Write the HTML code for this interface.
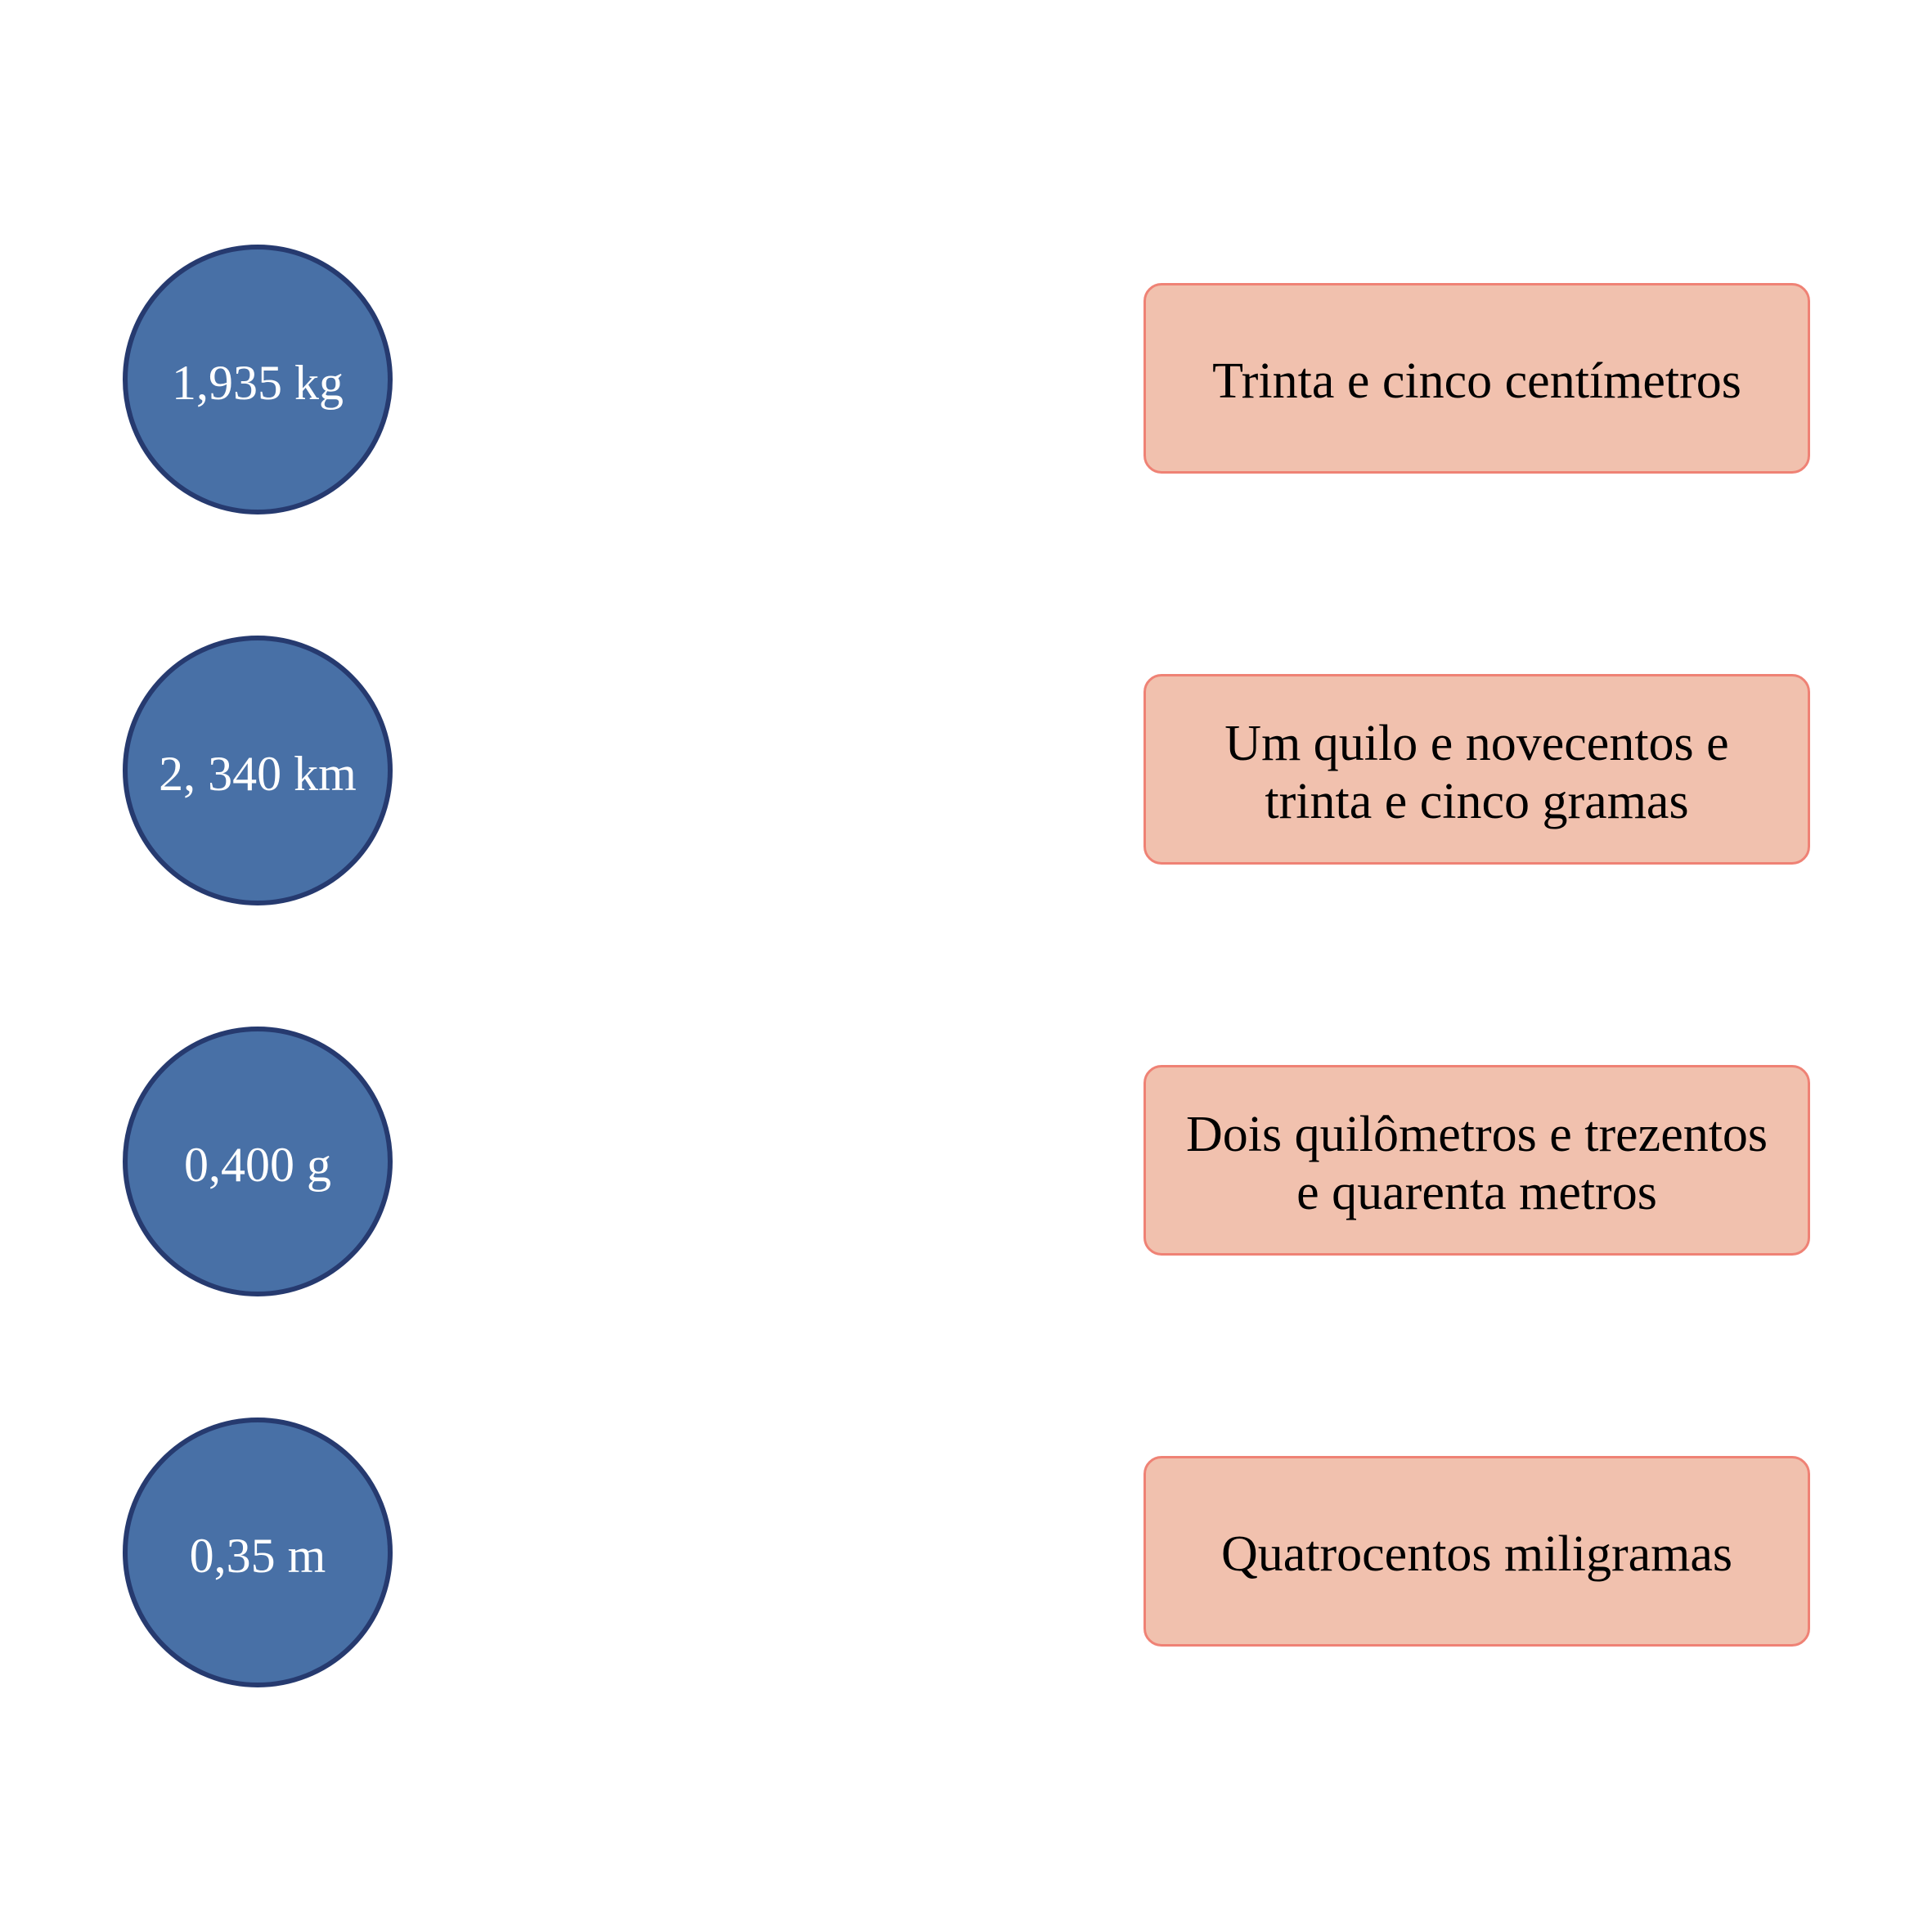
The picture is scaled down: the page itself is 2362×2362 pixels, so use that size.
<!DOCTYPE html>
<html><head><meta charset="utf-8"><style>
body{margin:0;width:2362px;height:2362px;background:#fff;position:relative;overflow:hidden;font-family:"Liberation Serif",serif;}
.c{position:absolute;width:318px;height:318px;border:6px solid #263a6f;background:#4870a6;border-radius:50%;color:#fff;font-size:60px;display:flex;align-items:center;justify-content:center;left:150px;box-sizing:content-box;padding-top:0;}
.c span{position:relative;top:4px;}
.b{position:absolute;left:1398px;width:809px;height:227px;border:3px solid #ef8275;background:#f1c1ae;border-radius:22px;color:#000;font-size:62px;line-height:71px;display:flex;align-items:center;justify-content:center;text-align:center;}
.b span{position:relative;top:4px;}
</style></head><body>
<div class="c" style="top:299px"><span>1,935 kg</span></div>
<div class="c" style="top:777px"><span>2, 340 km</span></div>
<div class="c" style="top:1255px"><span>0,400 g</span></div>
<div class="c" style="top:1733px"><span>0,35 m</span></div>
<div class="b" style="top:346px"><span>Trinta e cinco centímetros</span></div>
<div class="b" style="top:824px"><span>Um quilo e novecentos e<br>trinta e cinco gramas</span></div>
<div class="b" style="top:1302px"><span>Dois quilômetros e trezentos<br>e quarenta metros</span></div>
<div class="b" style="top:1780px"><span>Quatrocentos miligramas</span></div>
</body></html>
